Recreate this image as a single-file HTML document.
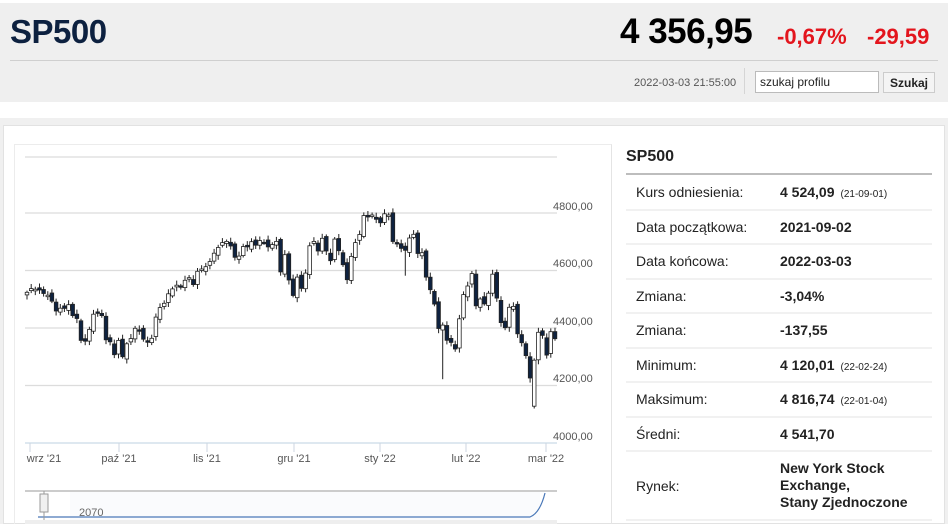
<!DOCTYPE html>
<html><head><meta charset="utf-8">
<style>
*{margin:0;padding:0;box-sizing:border-box}
body{width:948px;height:524px;overflow:hidden;background:#fff;font-family:"Liberation Sans",sans-serif;position:relative}
.abs{position:absolute}
#hdr{left:0;top:3px;width:948px;height:99px;background:#efefef}
#title{left:10px;top:13px;font-size:33px;font-weight:bold;color:#0d2140;letter-spacing:-0.5px}
#price{left:620px;top:12px;font-size:35px;font-weight:bold;color:#000;letter-spacing:-0.5px}
.red{color:#e3151d;font-size:22px;font-weight:bold;top:24px}
#hline{left:10px;top:60px;width:928px;height:1px;background:#cfcfcf}
#ts{left:634px;top:77px;font-size:11px;color:#555}
#vsep{left:744px;top:68px;width:1px;height:26px;background:#d5d5d5}
#inp{left:755px;top:71px;width:124px;height:22px;background:#fff;border:1px solid #bbb;font-size:12px;padding:3px 0 0 4px;color:#222}
#btn{left:883px;top:72px;width:52px;height:21px;background:#f4f4f4;border:1px solid #ccc;font-size:12px;font-weight:bold;text-align:center;padding-top:3px;color:#222}
#panel{left:0;top:118px;width:948px;height:406px;background:#f0f0f0}
#pin{left:3px;top:125px;width:942px;height:399px;background:#fff;border:1px solid #e2e2e2}
#cbox{left:14px;top:144px;width:598px;height:380px;border-left:1px solid #ececec;border-top:1px solid #ececec;border-right:1px solid #e4e4e4}
table{position:absolute;left:626px;top:144px;width:306px;border-collapse:collapse;font-size:14px;color:#222}
td{height:34.5px;border-bottom:2px solid #f1f1f1;vertical-align:middle}
td.l{padding-left:10px;width:154px}
td.v{font-weight:bold}
.sm{font-size:10px;font-weight:normal;margin-left:6px}
</style></head><body>
<div id="hdr" class="abs"></div>
<div id="title" class="abs">SP500</div>
<div id="price" class="abs">4 356,95</div>
<div class="abs red" style="left:777px">-0,67%</div>
<div class="abs red" style="left:867px">-29,59</div>
<div id="hline" class="abs"></div>
<div id="ts" class="abs">2022-03-03 21:55:00</div>
<div id="vsep" class="abs"></div>
<div id="inp" class="abs">szukaj profilu</div>
<div id="btn" class="abs">Szukaj</div>
<div id="panel" class="abs"></div>
<div id="pin" class="abs"></div>
<div id="cbox" class="abs"></div>
<svg class="abs" style="left:0;top:0" width="948" height="524" id="svg" xmlns="http://www.w3.org/2000/svg" font-family="Liberation Sans, sans-serif">
<g stroke="#dcdcdc" stroke-width="1.3">
<line x1="25" x2="557" y1="157" y2="157"/>
<line x1="25" x2="557" y1="213" y2="213"/>
<line x1="25" x2="557" y1="270.5" y2="270.5"/>
<line x1="25" x2="557" y1="328" y2="328"/>
<line x1="25" x2="557" y1="385.5" y2="385.5"/>
</g>
<line x1="25" x2="557" y1="443" y2="443" stroke="#d4e0ec" stroke-width="1.5"/>
<g font-size="11" fill="#555">
<text x="553" y="210">4800,00</text>
<text x="553" y="267">4600,00</text>
<text x="553" y="325">4400,00</text>
<text x="553" y="382">4200,00</text>
<text x="553" y="440">4000,00</text>
</g>
<g stroke="#ccd6e0">
<line x1="30" x2="30" y1="443" y2="452"/><line x1="119" x2="119" y1="443" y2="452"/><line x1="207" x2="207" y1="443" y2="452"/><line x1="294" x2="294" y1="443" y2="452"/><line x1="380" x2="380" y1="443" y2="452"/><line x1="466" x2="466" y1="443" y2="452"/><line x1="546" x2="546" y1="443" y2="452"/>
</g>
<g font-size="11" fill="#555" text-anchor="middle">
<text x="44" y="462">wrz '21</text><text x="119" y="462">paź '21</text><text x="207" y="462">lis '21</text><text x="294" y="462">gru '21</text><text x="380" y="462">sty '22</text><text x="466" y="462">lut '22</text><text x="546" y="462">mar '22</text>
</g>
<g id="cd"></g>
<line x1="25" x2="557" y1="491" y2="491" stroke="#999"/>
<rect x="70" y="492" width="470" height="28" fill="#fafbfd"/>
<text x="79" y="516" font-size="11" fill="#666">2070</text>
<path d="M38 517 L530 517 Q540 513 545 493" stroke="#4a78b8" fill="none" stroke-width="1.2"/>
<line x1="44" x2="44" y1="491" y2="524" stroke="#999"/>
<rect x="40" y="494" width="8" height="18" fill="#f0f0f0" stroke="#999"/>
<rect x="25" y="520" width="532" height="4" fill="#eee"/>
</svg>
<div class="abs" style="left:626px;top:148px;font-size:16px;font-weight:bold;color:#222">SP500</div>
<div class="abs" style="left:626px;top:173px;width:306px;height:2px;background:#bdbdbd"></div>
<table style="top:175px">
<tr><td class="l">Kurs odniesienia:</td><td class="v">4 524,09<span class="sm">(21-09-01)</span></td></tr>
<tr><td class="l">Data początkowa:</td><td class="v">2021-09-02</td></tr>
<tr><td class="l">Data końcowa:</td><td class="v">2022-03-03</td></tr>
<tr><td class="l">Zmiana:</td><td class="v">-3,04%</td></tr>
<tr><td class="l">Zmiana:</td><td class="v">-137,55</td></tr>
<tr><td class="l">Minimum:</td><td class="v">4 120,01<span class="sm">(22-02-24)</span></td></tr>
<tr><td class="l">Maksimum:</td><td class="v">4 816,74<span class="sm">(22-01-04)</span></td></tr>
<tr><td class="l">Średni:</td><td class="v">4 541,70</td></tr>
<tr><td class="l" style="height:69px">Rynek:</td><td class="v" style="height:69px;line-height:17px">New York Stock Exchange,<br>Stany Zjednoczone</td></tr>
</table>
<script>
try{
var NS="http://www.w3.org/2000/svg",g=document.getElementById("cd");
function Y(v){return 443-(v-4000)/3.478;}
function el(t,a){var e=document.createElementNS(NS,t);for(var k in a)e.setAttribute(k,a[k]);g.appendChild(e);}
var c=[4524,4537,4535,4532,4520,4514,4493,4459,4469,4468,4481,4443,4433,4357,4354,4395,4448,4455,4443,4359,4352,4307,4357,4300,4345,4363,4399,4391,4361,4350,4364,4438,4471,4486,4519,4536,4549,4545,4566,4575,4551,4597,4605,4613,4631,4660,4680,4697,4701,4685,4646,4650,4683,4682,4700,4688,4704,4698,4682,4690,4701,4595,4655,4567,4513,4577,4538,4591,4686,4701,4668,4712,4668,4634,4709,4669,4620,4568,4649,4697,4725,4791,4786,4793,4778,4766,4797,4793,4701,4696,4677,4670,4713,4726,4659,4662,4577,4533,4483,4398,4410,4357,4350,4327,4432,4516,4546,4589,4477,4501,4484,4521,4587,4504,4419,4401,4472,4475,4380,4349,4304,4226,4288,4385,4374,4306,4387,4363];
var n=c.length,x0=27,x1=555,dx=(x1-x0)/(n-1),p=4520;
for(var i=0;i<n;i++){
var cl=c[i],op=(i==0?4515:p+Math.sin(i*2.3)*8);
if(i==122)op=4128;if(i==121)op=4300;
var hi=Math.max(op,cl)+6+Math.abs(Math.sin(i*1.7))*10,lo=Math.min(op,cl)-6-Math.abs(Math.cos(i*1.3))*10;
if(i==122)lo=4120;if(i==100)lo=4222;if(i==91)lo=4582;
var x=x0+i*dx,yo=Y(op),yc=Y(cl),tp=Math.min(yo,yc),bh=Math.max(Math.abs(yo-yc),1.5),dn=cl<op;
el("line",{x1:x.toFixed(1),x2:x.toFixed(1),y1:Y(hi).toFixed(1),y2:Y(lo).toFixed(1),stroke:"#222","stroke-width":"1"});
el("rect",{x:(x-1.8).toFixed(1),y:tp.toFixed(1),width:"3.6",height:bh.toFixed(1),fill:dn?"#0e2240":"#fff",stroke:"#222","stroke-width":"0.8"});
p=cl;}
}catch(e){}
</script>
</body></html>
